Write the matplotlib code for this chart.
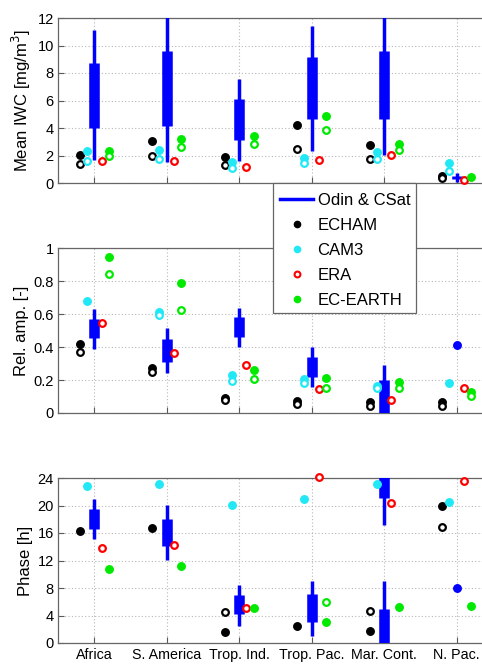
import numpy as np
import matplotlib
matplotlib.use("Agg")
import matplotlib.pyplot as plt
from matplotlib.lines import Line2D
from matplotlib.patches import Rectangle

plt.rcParams['font.family'] = ['Liberation Sans', 'DejaVu Sans']

nan = np.nan
regions = ["Africa", "S. America", "Trop. Ind.", "Trop. Pac.", "Mar. Cont.", "N. Pac."]

# ---- Mean IWC [mg/m3]
iwc_echam_f = [2.01, 3.08, 1.87, 4.22, 2.79, 0.51]
iwc_echam_o = [1.36, 1.96, 1.31, 2.45, 1.75, 0.34]
iwc_cam_f = [2.35, 2.40, 1.50, 1.80, 2.28, 1.43]
iwc_cam_o = [1.60, 1.72, 1.11, 1.43, 1.72, 0.90]
iwc_era = [1.60, 1.60, 1.19, 1.65, 2.06, 0.22]
iwc_ece_f = [2.35, 3.20, 3.42, 4.90, 2.84, 0.41]
iwc_ece_o = [1.99, 2.64, 2.86, 3.88, 2.38, nan]
iwc_odin_thin_lo = [1.67, 1.50, 1.60, 2.33, 2.06, 0.10]
iwc_odin_thin_hi = [11.1, 13.0, 7.56, 11.42, 13.0, 0.70]
iwc_odin_thick_lo = [4.02, 4.17, 3.13, 4.65, 4.65, 0.27]
iwc_odin_thick_hi = [8.75, 9.62, 6.09, 9.14, 9.60, 0.51]
iwc_odin_pt = [nan, nan, nan, nan, nan, nan]

# ---- Relative amplitude [-]
amp_echam_f = [0.418, 0.270, 0.093, 0.075, 0.065, 0.067]
amp_echam_o = [0.368, 0.247, 0.079, 0.055, 0.044, 0.040]
amp_cam_f = [0.677, 0.614, 0.228, 0.206, 0.166, 0.180]
amp_cam_o = [nan, 0.596, 0.192, 0.180, 0.153, nan]
amp_era = [0.545, 0.364, 0.293, 0.147, 0.081, 0.150]
amp_ece_f = [0.944, 0.786, 0.260, 0.214, 0.188, 0.125]
amp_ece_o = [0.842, 0.622, 0.208, 0.153, 0.153, 0.103]
amp_odin_thin_lo = [0.388, 0.240, 0.402, 0.160, -0.02, nan]
amp_odin_thin_hi = [0.630, 0.517, 0.638, 0.400, 0.290, nan]
amp_odin_thick_lo = [0.455, 0.311, 0.463, 0.220, -0.01, nan]
amp_odin_thick_hi = [0.572, 0.448, 0.580, 0.341, 0.198, nan]
amp_odin_pt = [nan, nan, nan, nan, nan, 0.41]

# ---- Phase [h]
ph_echam_f = [16.3, 16.7, 1.55, 2.52, 1.70, 19.9]
ph_echam_o = [nan, nan, 4.56, nan, 4.70, 16.9]
ph_cam_f = [22.8, 23.2, 20.1, 21.0, 23.2, 20.5]
ph_cam_o = [nan, nan, nan, nan, nan, nan]
ph_era = [13.8, 14.2, 5.1, 24.1, 20.3, 23.5]
ph_ece_f = [10.7, 11.2, 5.05, 3.0, 5.24, 5.4]
ph_ece_o = [nan, nan, nan, 6.0, nan, nan]
ph_odin_thin_lo = [15.1, 12.1, 2.5, 1.07, 17.1, nan]
ph_odin_thin_hi = [21.0, 20.1, 8.5, 9.07, 33.07, nan]
ph_odin_thick_lo = [16.6, 14.1, 4.2, 3.05, 21.1, nan]
ph_odin_thick_hi = [19.5, 18.1, 7.0, 7.08, 29.0, nan]
ph_odin_pt = [nan, nan, nan, nan, nan, 8.05]

BLUE = '#0000ff'
BLACK = '#000000'
CYAN = '#22e8f5'
RED = '#ff0000'
GREEN = '#00ea00'

FW, FH = 482, 665
fig = plt.figure(figsize=(FW / 100, FH / 100), dpi=100)
L = 58 / FW
W = (493 - 58) / FW
axes_px = [(18, 183), (248, 413), (478, 643)]
axs = []
for top, bot in axes_px:
    ax = fig.add_axes([L, 1 - bot / FH, W, (bot - top) / FH])
    axs.append(ax)

x = np.arange(1, len(regions) + 1)

panels = [
    dict(ef=iwc_echam_f, eo=iwc_echam_o, cf=iwc_cam_f, co=iwc_cam_o, era=iwc_era,
         gf=iwc_ece_f, go=iwc_ece_o, tl=iwc_odin_thin_lo, th=iwc_odin_thin_hi,
         kl=iwc_odin_thick_lo, kh=iwc_odin_thick_hi, pt=iwc_odin_pt,
         ylim=(0, 12), yt=np.arange(0, 13, 2), ytl=[str(v) for v in range(0, 13, 2)],
         ylabel="Mean IWC [mg/m$^3$]", wrap=None),
    dict(ef=amp_echam_f, eo=amp_echam_o, cf=amp_cam_f, co=amp_cam_o, era=amp_era,
         gf=amp_ece_f, go=amp_ece_o, tl=amp_odin_thin_lo, th=amp_odin_thin_hi,
         kl=amp_odin_thick_lo, kh=amp_odin_thick_hi, pt=amp_odin_pt,
         ylim=(0, 1), yt=np.arange(0, 1.01, 0.2), ytl=["0", "0.2", "0.4", "0.6", "0.8", "1"],
         ylabel="Rel. amp. [-]", wrap=None),
    dict(ef=ph_echam_f, eo=ph_echam_o, cf=ph_cam_f, co=ph_cam_o, era=ph_era,
         gf=ph_ece_f, go=ph_ece_o, tl=ph_odin_thin_lo, th=ph_odin_thin_hi,
         kl=ph_odin_thick_lo, kh=ph_odin_thick_hi, pt=ph_odin_pt,
         ylim=(0, 24), yt=np.arange(0, 25, 4), ytl=[str(v) for v in range(0, 25, 4)],
         ylabel="Phase [h]", wrap=24),
]

ms = 5.4
mso = 4.8
mew = 1.6
for ax, p in zip(axs, panels):
    shifts = [0] if p['wrap'] is None else [0, -p['wrap']]
    for s in shifts:
        ax.vlines(x, np.array(p['tl']) + s, np.array(p['th']) + s, color=BLUE,
                  linewidth=2.5, capstyle='butt', zorder=3)
        ax.vlines(x, np.array(p['kl']) + s, np.array(p['kh']) + s, color=BLUE,
                  linewidth=7.6, capstyle='butt', zorder=3)
    ax.plot(x, p['pt'], 'o', color=BLUE, ms=ms, zorder=4, clip_on=False)
    # models
    ax.plot(x - 0.2, p['ef'], 'o', color=BLACK, ms=ms, zorder=5, clip_on=False)
    ax.plot(x - 0.2, p['eo'], 'o', mfc='white', mec=BLACK, mew=mew, ms=mso, zorder=5, clip_on=False)
    ax.plot(x - 0.1, p['cf'], 'o', color=CYAN, ms=ms, zorder=5, clip_on=False)
    ax.plot(x - 0.1, p['co'], 'o', mfc='white', mec=CYAN, mew=mew, ms=mso, zorder=5, clip_on=False)
    ax.plot(x + 0.1, p['era'], 'o', mfc='white', mec=RED, mew=mew, ms=mso, zorder=5, clip_on=False)
    ax.plot(x + 0.2, p['gf'], 'o', color=GREEN, ms=ms, zorder=5, clip_on=False)
    ax.plot(x + 0.2, p['go'], 'o', mfc='white', mec=GREEN, mew=mew, ms=mso, zorder=5, clip_on=False)

    ax.set_xlim(0.5, len(regions) + 0.5)
    ax.set_ylim(*p['ylim'])
    ax.set_yticks(p['yt'])
    ax.set_yticklabels(p['ytl'], fontsize=10.5)
    ax.set_xticks(x)
    ax.grid(True, linestyle=(0, (1, 2)), color='0.72', linewidth=0.8)
    ax.set_axisbelow(True)
    ax.tick_params(direction='in', length=4, width=0.8, color='0.35', pad=3)
    for sp in ax.spines.values():
        sp.set_color('0.4')
        sp.set_linewidth(0.9)
    ax.set_ylabel(p['ylabel'], fontsize=12, labelpad=3)

axs[0].set_xticklabels([])
axs[1].set_xticklabels([])
axs[2].set_xticklabels(regions, fontsize=10.3)
axs[2].tick_params(axis='x', pad=3.5)

# legend frame (layout box spanning between the top two panels)
box_l, box_t, box_r, box_b = 273, 183, 416, 313
frame = Rectangle((box_l / FW, 1 - box_b / FH), (box_r - box_l) / FW, (box_b - box_t) / FH,
                  transform=fig.transFigure, facecolor='white', edgecolor='0.4',
                  linewidth=0.9, zorder=10)
fig.patches.append(frame)

handles = [
    Line2D([], [], color=BLUE, lw=2.5),
    Line2D([], [], ls='none', marker='o', color=BLACK, ms=4.5),
    Line2D([], [], ls='none', marker='o', color=CYAN, ms=4.5),
    Line2D([], [], ls='none', marker='o', mfc='white', mec=RED, mew=1.5, ms=4.2),
    Line2D([], [], ls='none', marker='o', color=GREEN, ms=4.5),
]
labels = ["Odin & CSat", "ECHAM", "CAM3", "ERA", "EC-EARTH"]
leg = fig.legend(handles, labels, loc='upper left',
                 bbox_to_anchor=(280 / FW, 1 - 193 / FH), fontsize=12,
                 frameon=False, handlelength=2.0, handletextpad=0.25,
                 labelspacing=0.6, borderpad=0, borderaxespad=0)
leg.set_zorder(20)

fig.savefig("out.png", dpi=100)
